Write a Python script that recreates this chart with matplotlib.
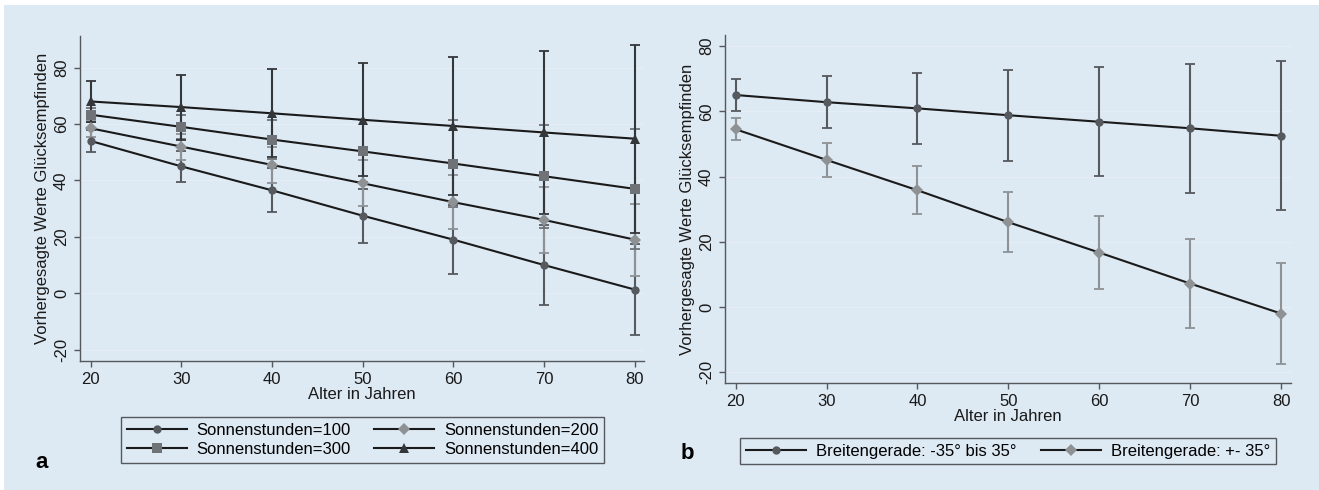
import numpy as np
import matplotlib
matplotlib.use("Agg")
import matplotlib.pyplot as plt
from matplotlib.lines import Line2D
from matplotlib.patches import Rectangle

plt.rcParams["font.family"] = ["Liberation Sans", "DejaVu Sans"]
plt.rcParams["axes.unicode_minus"] = False

# --- data -------------------------------------------------------------
ages = [20, 30, 40, 50, 60, 70, 80]

# panel a: predicted values by Sonnenstunden, with CI half widths
s100_mean = [54, 45, 36.5, 27.5, 19, 10, 1.3]
s100_err = [3.8, 5.6, 7.8, 9.5, 12.3, 14.1, 16.2]
s200_mean = [58.5, 52, 45.5, 39, 32.3, 26, 19]
s200_err = [3.0, 4.6, 6.4, 8.2, 9.6, 11.8, 12.8]
s300_mean = [63.3, 59, 54.5, 50.3, 46, 41.5, 37]
s300_err = [2.5, 4.2, 7.0, 11.0, 15.5, 18.3, 21.2]
s400_mean = [68, 66, 63.8, 61.5, 59.3, 57, 54.8]
s400_err = [7.4, 11.5, 15.6, 20.0, 24.3, 28.9, 33.3]

# panel b: predicted values by Breitengerade
bg_in_mean = [65, 62.8, 60.9, 58.8, 56.8, 54.8, 52.5]
bg_in_err = [5.0, 7.9, 10.8, 13.9, 16.7, 19.8, 22.8]
bg_out_mean = [54.5, 45.1, 35.8, 26.0, 16.7, 7.2, -2.0]
bg_out_err = [3.4, 5.2, 7.3, 9.2, 11.3, 13.5, 15.4]

labels_a = ["Sonnenstunden=100", "Sonnenstunden=200",
            "Sonnenstunden=300", "Sonnenstunden=400"]
labels_b = ["Breitengerade: -35° bis 35°", "Breitengerade: +- 35°"]

BG = "#dde9f3"
AX_COL = "#55595d"
W, H = 1319, 490

fig = plt.figure(figsize=(W / 100, H / 100), dpi=100)
fig.patch.set_facecolor("white")
fig.patches.append(Rectangle((4 / W, 0), 1 - 4 / W, 1 - 5 / H,
                             transform=fig.transFigure, facecolor=BG,
                             edgecolor="none", zorder=-10))


def px_axes(left, top, right, bottom):
    return fig.add_axes([left / W, 1 - bottom / H, (right - left) / W, (bottom - top) / H])


def draw_series(ax, mean, err, marker, color, ms):
    ax.errorbar(ages, mean, yerr=err, fmt="none", ecolor=color, elinewidth=1.5,
                capsize=3.5, capthick=1.3, zorder=2)
    ax.plot(ages, mean, "-", color="#1a1a1a", lw=1.5, zorder=3)
    ax.plot(ages, mean, linestyle="none", marker=marker, color=color,
            markersize=ms, markeredgewidth=0, zorder=4)


def style_axes(ax, xlim, ylim, yticks):
    ax.set_facecolor(BG)
    ax.set_xlim(*xlim)
    ax.set_ylim(*ylim)
    ax.set_xticks(np.arange(20, 81, 10))
    ax.set_yticks(yticks)
    for s in ["top", "right"]:
        ax.spines[s].set_visible(False)
    for s in ["left", "bottom"]:
        ax.spines[s].set_color(AX_COL)
        ax.spines[s].set_linewidth(1.0)
    for y in yticks:
        ax.axhline(y, color="#e4eef7", lw=1.0, zorder=0)
    ax.tick_params(direction="out", length=4, width=1, color=AX_COL,
                   labelsize=12, pad=4, labelcolor="#1a1a1a")
    for lab in ax.get_yticklabels():
        lab.set_rotation(90)
        lab.set_va("center")
    ax.set_xlabel("Alter in Jahren", fontsize=12, labelpad=0, color="#1a1a1a")
    ax.set_ylabel("Vorhergesagte Werte Glücksempfinden", fontsize=12,
                  labelpad=3, color="#1a1a1a")


def make_legend(ax, handles, labels, center, colspace):
    leg = ax.legend(handles, labels, ncol=2, loc="center",
                    bbox_to_anchor=(center[0] / W, 1 - center[1] / H),
                    bbox_transform=fig.transFigure, fontsize=12, frameon=True,
                    fancybox=False, handlelength=3.6, handletextpad=0.6,
                    columnspacing=colspace, labelspacing=0.25, borderpad=0.35)
    leg.get_frame().set_facecolor(BG)
    leg.get_frame().set_edgecolor(AX_COL)
    leg.get_frame().set_alpha(1)
    return leg


# --- panel a ----------------------------------------------------------
ax1 = px_axes(80, 36, 644, 361)
series_a = [(s100_mean, s100_err, "o", "#565a5e", 6),
            (s200_mean, s200_err, "D", "#8e9295", 6),
            (s300_mean, s300_err, "s", "#6f7377", 7),
            (s400_mean, s400_err, "^", "#34373a", 7)]
for mean, err, mk, col, ms in series_a:
    draw_series(ax1, mean, err, mk, col, ms)
style_axes(ax1, (18.84, 81.0), (-24, 91.2), [-20, 0, 20, 40, 60, 80])

handles_a = [Line2D([], [], color="#1a1a1a", lw=1.5, marker=mk, markerfacecolor=col,
                    markeredgewidth=0, markersize=ms)
             for _, _, mk, col, ms in series_a]
# legend fills column-wise; reorder so rows read 100,200 / 300,400
order = [0, 2, 1, 3]
make_legend(ax1, [handles_a[i] for i in order], [labels_a[i] for i in order],
            (362.5, 440), 1.4)

# --- panel b ----------------------------------------------------------
ax2 = px_axes(725, 35, 1291, 383)
series_b = [(bg_in_mean, bg_in_err, "o", "#565a5e", 6),
            (bg_out_mean, bg_out_err, "D", "#8e9295", 6)]
for mean, err, mk, col, ms in series_b:
    draw_series(ax2, mean, err, mk, col, ms)
style_axes(ax2, (18.83, 81.1), (-23.3, 83.4), [-20, 0, 20, 40, 60, 80])

handles_b = [Line2D([], [], color="#1a1a1a", lw=1.5, marker=mk, markerfacecolor=col,
                    markeredgewidth=0, markersize=ms)
             for _, _, mk, col, ms in series_b]
make_legend(ax2, handles_b, labels_b, (1008, 451), 1.5)

# panel letters
fig.text(42 / W, 1 - 468 / H, "a", fontsize=16, fontweight="bold", ha="center", va="baseline")
fig.text(687 / W, 1 - 459 / H, "b", fontsize=16, fontweight="bold", ha="center", va="baseline")

fig.savefig("out.png", dpi=100, facecolor=fig.get_facecolor())
